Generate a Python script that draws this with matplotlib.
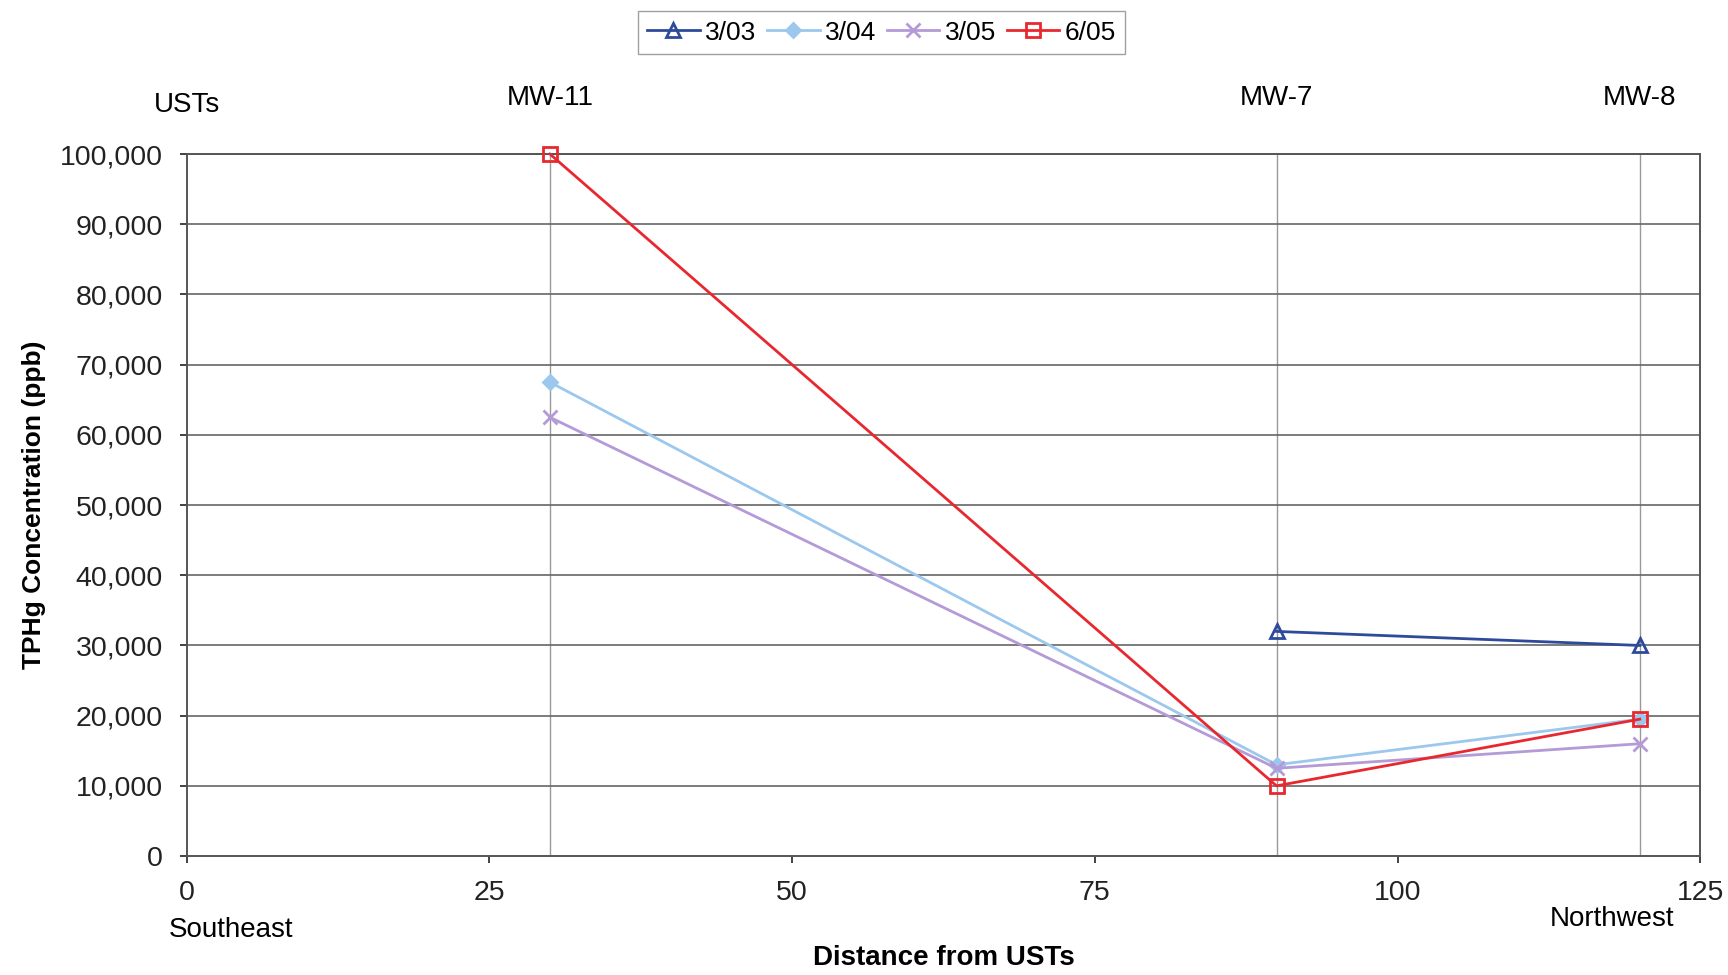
import matplotlib
matplotlib.use("Agg")
import matplotlib.pyplot as plt
from matplotlib.ticker import FuncFormatter

plt.rcParams['font.family'] = ['Liberation Sans', 'DejaVu Sans']

wells = ["MW-11", "MW-7", "MW-8"]
distance = [30, 90, 120]
dates = ["3/03", "3/04", "3/05", "6/05"]
s_0303 = [None, 32000, 30000]
s_0304 = [67500, 13000, 19500]
s_0305 = [62500, 12500, 16000]
s_0605 = [100000, 10000, 19500]
series = [s_0303, s_0304, s_0305, s_0605]
colors = ["#2e4a9a", "#9cc8ee", "#b49ad6", "#e8282e"]
markers = ["^", "D", "x", "s"]
msizes = [10, 7, 10, 10]
xticks = [0, 25, 50, 75, 100, 125]
yticks = list(range(0, 100001, 10000))

fig = plt.figure(figsize=(17.28, 9.75), dpi=100)
ax = fig.add_axes([0.108, 0.122, 0.876, 0.72])

for d in distance:
    ax.axvline(d, color="#999999", lw=1.0, zorder=1)
for yv in yticks[1:]:
    ax.axhline(yv, color="#666666", lw=1.2, zorder=1)

for name, vals, c, m, ms in zip(dates, series, colors, markers, msizes):
    xs = [x for x, v in zip(distance, vals) if v is not None]
    ys = [v for v in vals if v is not None]
    mfc = c if m == "D" else "none"
    ax.plot(xs, ys, color=c, lw=2.0, marker=m, markersize=ms,
            markerfacecolor=mfc, markeredgecolor=c, markeredgewidth=2.0,
            label=name, zorder=3, clip_on=False)

ax.set_xlim(0, 125)
ax.set_ylim(0, 100000)
ax.set_xticks(xticks)
ax.set_yticks(yticks)
ax.yaxis.set_major_formatter(FuncFormatter(lambda v, p: f"{int(v):,}"))
ax.tick_params(axis='both', labelsize=20.5, colors="#222222", length=5, width=1.2)
ax.tick_params(axis='x', pad=12, direction='out')
ax.tick_params(axis='y', pad=12)
for sp in ax.spines.values():
    sp.set_color("#555555")
    sp.set_linewidth(1.4)

ax.set_ylabel("TPHg Concentration (ppb)", fontsize=19, fontweight="bold", labelpad=10)
ax.set_xlabel("Distance from USTs", fontsize=20, fontweight="bold", labelpad=28)

# top well labels
ax.text(0, 1.07, "USTs", transform=ax.get_xaxis_transform(), ha="center", va="center", fontsize=20)
for d, w in zip(distance, wells):
    ax.text(d, 1.08, w, transform=ax.get_xaxis_transform(), ha="center", va="center", fontsize=20)

ax.text(-1.5, -0.105, "Southeast", transform=ax.get_xaxis_transform(), ha="left", va="center", fontsize=20)
ax.text(117.7, -0.09, "Northwest", transform=ax.get_xaxis_transform(), ha="center", va="center", fontsize=20)

leg = ax.legend(loc="center", bbox_to_anchor=(0.459, 1.173), ncol=4, fontsize=19,
                frameon=True, fancybox=False, edgecolor="#888888", handlelength=2.0,
                handletextpad=0.2, columnspacing=0.4, borderpad=0.35)

plt.savefig("out.png", dpi=100)
